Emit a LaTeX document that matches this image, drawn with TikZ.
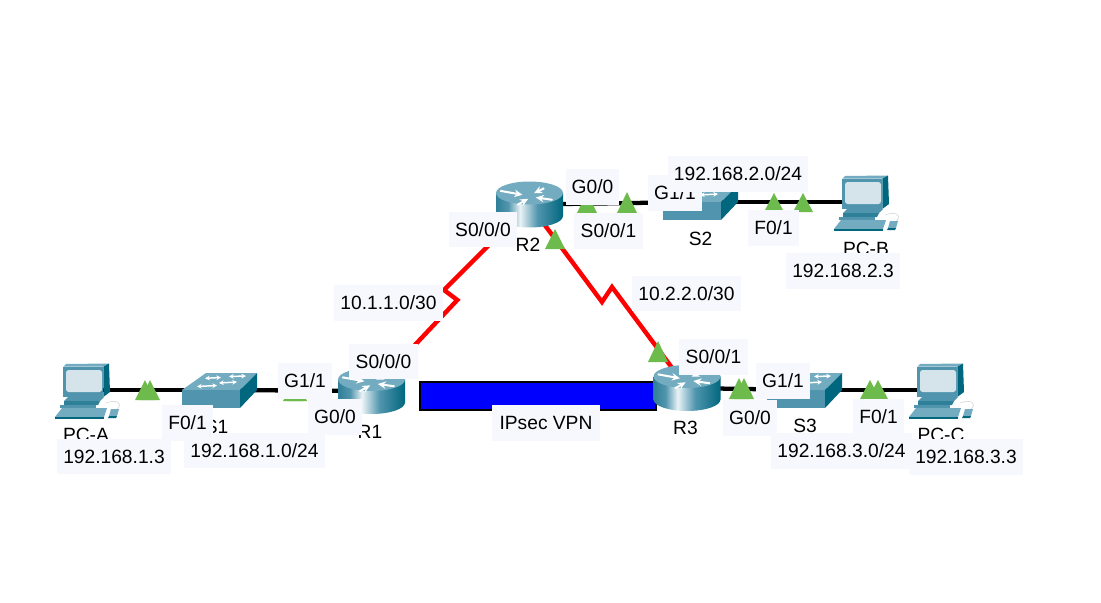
\documentclass[tikz,border=0pt]{standalone}
\usepackage{fontspec}
\setmainfont{Liberation Sans}
\usetikzlibrary{arrows.meta}
\definecolor{labbg}{HTML}{F7F8FE}
\definecolor{tribg}{HTML}{6CBB4C}
\definecolor{teal1}{HTML}{5095AD}
\definecolor{teal2}{HTML}{73ACC0}
\definecolor{teal3}{HTML}{00677F}
\definecolor{teal4}{HTML}{2E8098}
\definecolor{screen}{HTML}{D4E4EA}
\pgfdeclarehorizontalshading{routerbody}{100bp}{
  color(0bp)=(teal4); color(25bp)=(teal4); color(34bp)=(teal1);
  color(43bp)=(white!85!teal2); color(56bp)=(teal1); color(75bp)=(teal3); color(100bp)=(teal3)}
\newcommand\lab[6]{\node[lab,minimum width={(#4-#2)*0.75pt},minimum height={(#5-#3)*0.75pt}] (#1) at ({(#2+#4)/2},{(#3+#5)/2}) {#6};}
\newcommand\tri[3]{\fill[tribg] (#1-10,#3) -- (#1,#2) -- (#1+10,#3) -- cycle;}
\tikzset{
  lab/.style={fill=labbg,inner sep=0pt,text height=10.1pt,text depth=0pt,align=center,font=\fontsize{14.4}{16}\selectfont},
  devlab/.style={inner sep=0pt,text height=10.1pt,text depth=0pt,font=\fontsize{14.4}{16}\selectfont},
  dev/.style={inner sep=0pt,minimum size=1pt},
  eth/.style={line width=3.2pt,black},
  serial/.style={line width=3.3pt,red,line join=miter},
  wharrow/.style={white,line width=1.5pt,-{Stealth[length=6pt,width=5.5pt]}},
  wharrow2/.style={white,line width=1.1pt,{Stealth[length=3.5pt,width=3.5pt]}-{Stealth[length=3.5pt,width=3.5pt]}},
  pics/pcicon/.style={code={
    \fill[teal2] (-22.7,-23.3) -- (-20,-26) -- (23,-26.5) -- (17.3,-23.3) -- cycle;
    \fill[teal3] (17.3,-23.3) -- (23,-26.5) -- (24,2) -- (17.3,7) -- cycle;
    \fill[teal1] (-22.7,-23.3) rectangle (17.3,7);
    \fill[screen,rounded corners=2pt] (-20,-20) rectangle (16,2);
    \fill[teal1] (-18,7) -- (18,7) -- (14,11) -- (-22,11) -- cycle;
    \fill[teal4] (-22,11) -- (14,11) -- (12,15) -- (-22,15) -- cycle;
    \fill[teal1] (-26,15) rectangle (10,18);
    \fill[teal2] (-31,27) -- (-24,18) -- (21,18) -- (18,27) -- cycle;
    \fill[teal3] (-31,27) -- (18,27) -- (18,28.5) -- (-31,28.5) -- cycle;
    \fill[teal2] (25,19) -- (33,19) -- (31,26) -- (23,26) -- cycle;
    \fill[teal3] (23,26) -- (31,26) -- (30,28) -- (22,28) -- cycle;
    \draw[gray!35,line width=0.4pt] (20,13) .. controls (30,9) and (38,13) .. (31,19);
  }},
  pics/swicon/.style={code={
    \fill[teal2] (-38,0) -- (-14,-17) -- (37,-17) -- (20,0) -- cycle;
    \fill[teal1] (-38,0) rectangle (20,18);
    \fill[teal3] (20,0) -- (37,-17) -- (37,0) -- (20,18) -- cycle;
    \draw[wharrow2] (-15,-11.7) -- (1,-12.5);
    \draw[wharrow2] (9,-13.5) -- (26,-14);
    \draw[wharrow2] (-23,-3.5) -- (-3,-4.5);
    \draw[wharrow2] (-1,-7) -- (17,-8);
  }},
  pics/rticon/.style={code={
    \shade[shading=routerbody] (-33.5,-11.5) -- (-33.5,11.5) arc[start angle=180,end angle=0,x radius=33.5,y radius=11.5] -- (33.5,-11.5) -- cycle;
    \fill[teal2] (0,-11.5) ellipse[x radius=33.5,y radius=11.5];
    \draw[wharrow] (-29.3,-13.7) -- (-7,-9.7);
    \draw[wharrow] (23,-4.7) -- (6.3,-7);
    \draw[wharrow] (-12,0.3) -- (-1.3,-5.7);
    \draw[wharrow] (14.7,-16.3) -- (4.6,-11.3);
  }}
}
\begin{document}
\begin{tikzpicture}[x=0.75pt,y=-0.75pt]
\useasboundingbox[fill=white] (0,0) rectangle (1101,603);
% anchors of the devices
\node[dev] (PCA) at (86,390) {};
\node[dev] (S1) at (220,390) {};
\node[dev] (R1) at (371.5,391) {};
\node[dev] (R2) at (529.5,204.5) {};
\node[dev] (S2) at (701,202) {};
\node[dev] (PCB) at (865,202) {};
\node[dev] (R3) at (687,388) {};
\node[dev] (S3) at (805,390) {};
\node[dev] (PCC) at (940,390) {};
\coordinate (zigA) at (457.3,300);
\coordinate (zigB) at (444,290);
\coordinate (zigC) at (602,302);
\coordinate (zigD) at (612,287);
% links
\draw[eth] (PCA) -- (S1);
\draw[eth] (S1) -- (R1);
\draw[eth] (R2) -- (S2);
\draw[eth] (S2) -- (PCB);
\draw[eth] (R3) -- (S3);
\draw[eth] (S3) -- (PCC);
\draw[serial] (R1) -- (zigA) -- (zigB) -- (R2);
\draw[serial] (R2) -- (zigC) -- (zigD) -- (R3);
% IPsec tunnel
\node[dev,fill=blue,draw=black,line width=1.5pt,minimum width={236*0.75pt},minimum height={28*0.75pt}] (vpn) at (537.5,395.5) {};
% icons
\pic at (PCA) {pcicon};
\pic at (S1) {swicon};
\pic at (R1) {rticon};
\pic at (R2) {rticon};
\pic at (S2) {swicon};
\pic at (PCB) {pcicon};
\pic at (R3) {rticon};
\pic at (S3) {swicon};
\pic at (PCC) {pcicon};
% link lights
\tri{145}{380}{400}\tri{150}{380}{400}
\tri{293}{381}{401}\tri{297}{381}{401}
\tri{587}{192}{213}\tri{627}{192}{213}
\tri{774}{193}{212}\tri{803}{193}{212}
\tri{555}{229}{249}
\tri{658}{341}{362}
\tri{739}{378}{399}\tri{744}{378}{399}
\tri{870}{380}{399}\tri{878}{380}{399}
% device names
\node[devlab] (tPCA) at (86,434.5) {PC-A};
\node[devlab] (tS1) at (216.5,427) {S1};
\node[devlab] (tR1) at (370,431.5) {R1};
\node[devlab] (tR2) at (528,244.5) {R2};
\node[devlab] (tS2) at (700.5,238.5) {S2};
\node[devlab] (tPCB) at (866,249) {PC-B};
\node[devlab] (tR3) at (685.5,428) {R3};
\node[devlab] (tS3) at (805,425.5) {S3};
\node[devlab] (tPCC) at (941,434.5) {PC-C};
% labels
\lab{a1}{57}{439}{171}{474}{192.168.1.3}
\lab{a2}{184}{433}{325}{468}{192.168.1.0/24}
\lab{a3}{162}{405}{213}{441}{F0/1}
\lab{a4}{278}{363}{332}{399}{G1/1}
\lab{a5}{308}{399}{362}{435}{G0/0}
\lab{a6}{349}{344}{418}{379}{S0/0/0}
\lab{a7}{334}{285}{443}{321}{10.1.1.0/30}
\lab{a8}{449}{212}{517}{247}{S0/0/0}
\lab{a9}{566}{169}{619}{205}{G0/0}
\lab{a10}{574}{213}{643}{249}{S0/0/1}
\lab{a11}{648}{175}{702}{211}{G1/1}
\lab{a12}{668}{156}{808}{192}{192.168.2.0/24}
\lab{a13}{748}{210}{799}{246}{F0/1}
\lab{a14}{786}{253}{900}{289}{192.168.2.3}
\lab{a15}{632}{276}{741}{311}{10.2.2.0/30}
\lab{a16}{492}{405}{600}{441}{IPsec VPN}
\lab{a17}{679}{339}{748}{375}{S0/0/1}
\lab{a18}{756}{363}{810}{399}{G1/1}
\lab{a19}{723}{400}{777}{436}{G0/0}
\lab{a20}{853}{399}{904}{435}{F0/1}
\lab{a21}{771}{433}{912}{469}{192.168.3.0/24}
\lab{a22}{909}{439}{1023}{475}{192.168.3.3}
\end{tikzpicture}
\end{document}
